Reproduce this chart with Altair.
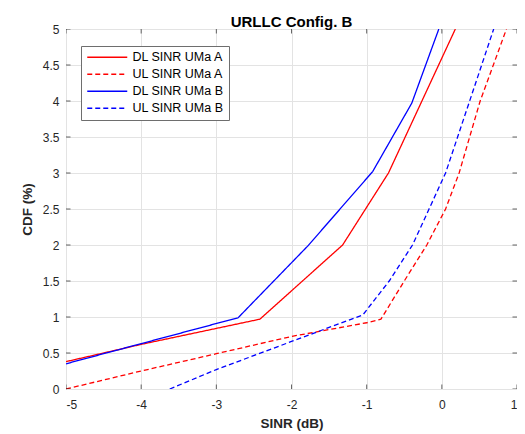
import altair as alt
import pandas as pd

series_names = ["DL SINR UMa A", "UL SINR UMa A", "DL SINR UMa B", "UL SINR UMa B"]
series_colors = ["#ff0000", "#ff0000", "#0000ff", "#0000ff"]
series_dashes = [[1, 0], [5, 3], [1, 0], [5, 3]]

dl_a_x = [-5.0, -4.0, -2.42, -1.32, -0.71, 0.18]
dl_a_y = [0.38, 0.62, 0.97, 2.0, 3.0, 5.0]

ul_a_x = [-5.0, -4.0, -3.0, -2.0, -1.0, -0.81, -0.5, -0.2, 0.05, 0.23, 0.51, 0.86]
ul_a_y = [0.0, 0.25, 0.49, 0.73, 0.92, 0.97, 1.5, 2.0, 2.5, 3.0, 4.0, 5.0]

dl_b_x = [-5.0, -4.0, -2.71, -1.78, -0.92, -0.40, -0.04]
dl_b_y = [0.35, 0.63, 0.99, 1.99, 3.02, 3.97, 5.0]

ul_b_x = [-3.62, -3.0, -2.0, -1.05, -0.7, -0.39, -0.17, 0.05, 0.37, 0.69]
ul_b_y = [0.0, 0.27, 0.66, 1.03, 1.5, 2.0, 2.5, 3.0, 4.0, 5.0]

x_ticks = [-5, -4, -3, -2, -1, 0, 1]
y_ticks = [0, 0.5, 1, 1.5, 2, 2.5, 3, 3.5, 4, 4.5, 5]

rows = []
for name, xs, ys in zip(series_names, [dl_a_x, ul_a_x, dl_b_x, ul_b_x], [dl_a_y, ul_a_y, dl_b_y, ul_b_y]):
    for i, (xv, yv) in enumerate(zip(xs, ys)):
        rows.append({"series": name, "sinr": xv, "cdf": yv, "idx": i})
df = pd.DataFrame(rows)

FONT = "Liberation Sans"
AX = "#262626"

xscale = alt.Scale(domain=[-5, 1], nice=False, zero=False)
yscale = alt.Scale(domain=[0, 5], nice=False)

xaxis = alt.Axis(values=x_ticks, title="SINR (dB)", labelExpr="'' + datum.value",
                 grid=True, tickSize=0, labelPadding=10, titlePadding=6)
yaxis = alt.Axis(values=y_ticks, title="CDF (%)", labelExpr="'' + datum.value",
                 grid=True, tickSize=0, labelPadding=7, titlePadding=8)

legend = alt.Legend(
    title=None, orient="none", legendX=15, legendY=17,
    fillColor="white", strokeColor="#6e6e6e", padding=5,
    labelFont=FONT, labelFontSize=12.5, labelColor="#000000",
    symbolType="M-4,0H4", symbolSize=100, symbolStrokeWidth=1.3,
    symbolOffset=15, labelOffset=19, rowPadding=4,
)

lines = alt.Chart(df).mark_line(strokeWidth=1.3, clip=True).encode(
    x=alt.X("sinr:Q", scale=xscale, axis=xaxis),
    y=alt.Y("cdf:Q", scale=yscale, axis=yaxis),
    color=alt.Color("series:N", scale=alt.Scale(domain=series_names, range=series_colors), legend=legend),
    strokeDash=alt.StrokeDash("series:N", scale=alt.Scale(domain=series_names, range=series_dashes), legend=legend),
    order=alt.Order("idx:Q"),
)

xt = pd.DataFrame({"v": x_ticks})
yt = pd.DataFrame({"v": y_ticks})

def tick(data, orient, field_ch, fixed_ch):
    return alt.Chart(data).mark_tick(orient=orient, size=9, thickness=1, color=AX, clip=True).encode(
        **field_ch, **fixed_ch)

tick_x_bottom = tick(xt, "vertical", {"x": alt.X("v:Q", scale=xscale, axis=xaxis)}, {"y": alt.datum(0, scale=yscale, axis=yaxis)})
tick_x_top = tick(xt, "vertical", {"x": alt.X("v:Q", scale=xscale, axis=xaxis)}, {"y": alt.datum(5, scale=yscale, axis=yaxis)})
tick_y_left = tick(yt, "horizontal", {"y": alt.Y("v:Q", scale=yscale, axis=yaxis)}, {"x": alt.datum(-5, scale=xscale, axis=xaxis)})
tick_y_right = tick(yt, "horizontal", {"y": alt.Y("v:Q", scale=yscale, axis=yaxis)}, {"x": alt.datum(1, scale=xscale, axis=xaxis)})

chart = alt.layer(lines, tick_x_bottom, tick_x_top, tick_y_left, tick_y_right).properties(
    width=451, height=360,
    title=alt.TitleParams("URLLC Config. B", font=FONT, fontSize=15, fontWeight="bold", color="#000000", offset=-7),
    padding={"left": 58, "top": 21, "right": 0, "bottom": 45},
    autosize=alt.AutoSizeParams(type="none"),
).configure_view(stroke=AX, strokeWidth=1).configure_axis(
    domain=False, gridColor="#e3e3e3", gridWidth=1,
    labelFont=FONT, labelFontSize=12, labelColor=AX,
    titleFont=FONT, titleFontSize=13.5, titleFontWeight="bold", titleColor=AX,
)

chart.save("out.html", embed_options={"renderer": "svg", "actions": False})
